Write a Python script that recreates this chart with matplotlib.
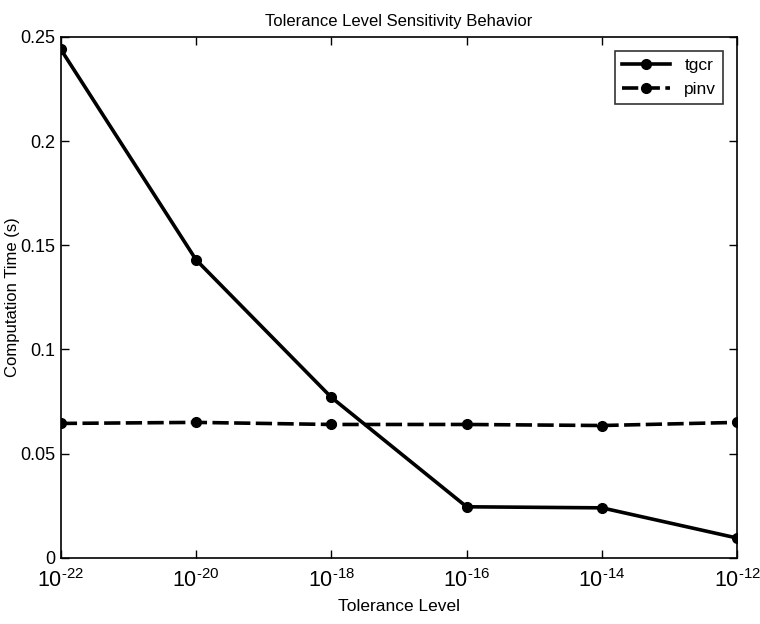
import numpy as np
import matplotlib
matplotlib.use('Agg')
import matplotlib.pyplot as plt
from matplotlib.ticker import NullLocator

plt.rcParams['font.family'] = ['Liberation Sans', 'DejaVu Sans']
plt.rcParams['mathtext.fontset'] = 'custom'
plt.rcParams['mathtext.rm'] = 'Liberation Sans'

# data
tolerance = [1e-22, 1e-20, 1e-18, 1e-16, 1e-14, 1e-12]
exponents = ['22', '20', '18', '16', '14', '12']
tgcr = [0.244, 0.143, 0.077, 0.0245, 0.024, 0.0095]
pinv = [0.0645, 0.065, 0.064, 0.064, 0.0635, 0.065]

tol_labels = ['$\\mathregular{10^{\\text{-}%s}}$' % e for e in exponents]

fig = plt.figure(figsize=(7.6, 6.24), dpi=100)
ax = fig.add_axes([0.080, 0.106, 0.890, 0.835])

ax.plot(tolerance, tgcr, '-', color='black', lw=2.6, marker='o', ms=7, label='tgcr')
ax.plot(tolerance, pinv, '--', color='black', lw=2.6, marker='o', ms=7,
        dashes=(4.5, 1.5), label='pinv')

ax.set_xscale('log')
ax.set_xlim(1e-22, 1e-12)
ax.set_ylim(0, 0.25)
ax.set_xticks(tolerance)
ax.set_xticklabels(tol_labels)
ax.xaxis.set_minor_locator(NullLocator())
ax.set_yticks([0, 0.05, 0.1, 0.15, 0.2, 0.25])
ax.set_yticklabels(['0', '0.05', '0.1', '0.15', '0.2', '0.25'])
ax.tick_params(direction='in', top=True, right=True, length=6, width=1, labelsize=13, pad=4)
ax.tick_params(axis='x', labelsize=15.5, pad=8)
for s in ax.spines.values():
    s.set_linewidth(1.2)

ax.set_title('Tolerance Level Sensitivity Behavior', fontsize=12, pad=8)
ax.set_xlabel('Tolerance Level', fontsize=12.5, labelpad=5)
ax.set_ylabel('Computation Time (s)', fontsize=12)
ax.yaxis.set_label_coords(-0.06, 0.5)

leg = ax.legend(loc='upper right', fontsize=12.5, frameon=True, fancybox=False,
                edgecolor='black', handlelength=2.8, borderaxespad=0.8)
leg.get_frame().set_linewidth(1.2)

fig.savefig('out.png', dpi=100)
